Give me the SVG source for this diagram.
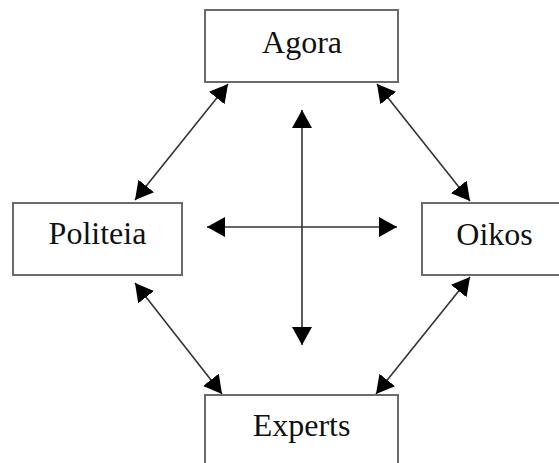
<svg xmlns="http://www.w3.org/2000/svg" width="559" height="463" viewBox="0 0 559 463">
<style>
.box{fill:#fff;stroke:#6b6b6b;stroke-width:2}
.lbl{font-family:"Liberation Serif","Times New Roman",serif;font-size:32px;fill:#111;text-anchor:middle}
.conn{stroke:#333;stroke-width:1.6;fill:none;marker-start:url(#ah);marker-end:url(#ah)}
</style>
<defs>
<marker id="ah" viewBox="0 0 18 20" refX="18" refY="10" markerWidth="18" markerHeight="20" markerUnits="userSpaceOnUse" orient="auto-start-reverse">
<path d="M0,0 L18,10 L0,20 Z" fill="#000"/>
</marker>
</defs>
<rect width="559" height="463" fill="#fff"/>
<g id="connectors">
<line class="conn" x1="228" y1="84" x2="135" y2="200"/>
<line class="conn" x1="377" y1="84" x2="470" y2="201"/>
<line class="conn" x1="135" y1="283" x2="222" y2="394"/>
<line class="conn" x1="470" y1="277" x2="376" y2="394"/>
<line class="conn" x1="302" y1="110" x2="302" y2="345"/>
<line class="conn" x1="207" y1="227" x2="397" y2="227"/>
</g>
<g id="agora">
<rect class="box" x="205" y="10" width="193" height="72"/>
<text class="lbl" x="302" y="53">Agora</text>
</g>
<g id="politeia">
<rect class="box" x="13" y="203" width="169" height="72"/>
<text class="lbl" x="97.5" y="244">Politeia</text>
</g>
<g id="oikos">
<rect class="box" x="422" y="203" width="145" height="72"/>
<text class="lbl" x="494.5" y="245">Oikos</text>
</g>
<g id="experts">
<rect class="box" x="205" y="395" width="193" height="80"/>
<text class="lbl" x="301.5" y="436">Experts</text>
</g>
</svg>
